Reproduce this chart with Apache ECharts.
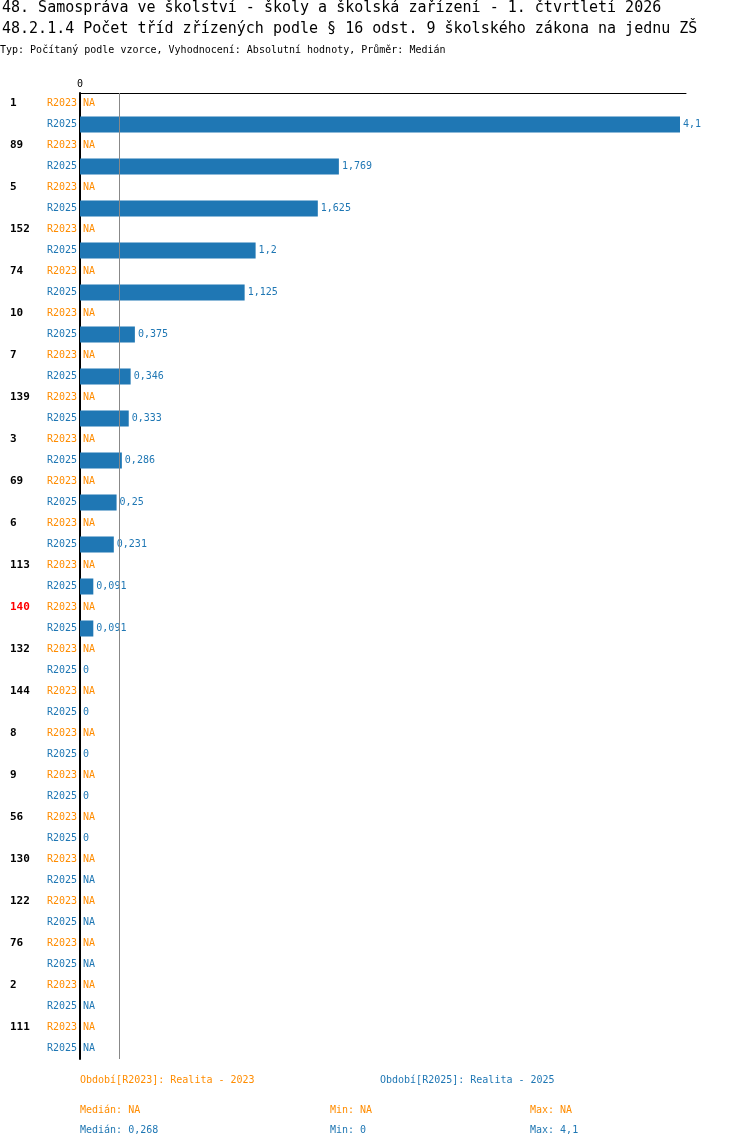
<!DOCTYPE html>
<html><head><meta charset="utf-8">
<script src="https://cdn.jsdelivr.net/npm/echarts@6/dist/echarts.min.js"></script>
<style>body{margin:0;background:#fff}#c{width:750px;height:1148px}</style></head>
<body><div id="c"></div>
<script>
const groups=['1','89','5','152','74','10','7','139','3','69','6','113','140','132','144','8','9','56','130','122','76','2','111'];
const values2023=groups.map(()=>null);
const values2025=[4.1,1.769,1.625,1.2,1.125,0.375,0.346,0.333,0.286,0.25,0.231,0.091,0.091,0,0,0,0,0,null,null,null,null,null];
const highlight='140';
const median2025=0.268;
const periods=['R2023','R2025'];
const C23='#ff8c00',C25='#1f77b4';
const font='DejaVu Sans Mono';
const rows=[],groupRows=[],data=[];
groups.forEach((g,i)=>{
  [values2023[i],values2025[i]].forEach((v,k)=>{
    rows.push(periods[k]);
    groupRows.push(k===0?g:'');
    const col=k===0?C23:C25;
    data.push({value:v==null?0:v,itemStyle:{color:C25},
      label:{color:col,formatter:v==null?'NA':String(v).replace('.',',')}});
  });
});
const chart=echarts.init(document.getElementById('c'));
chart.setOption({
  animation:false,
  textStyle:{fontFamily:font},
  graphic:[
    {type:'text',left:2,top:1,style:{text:'48. Samospráva ve školství - školy a školská zařízení - 1. čtvrtletí 2026',font:'15px "DejaVu Sans Mono"',fill:'#000'}},
    {type:'text',left:2,top:22,style:{text:'48.2.1.4 Počet tříd zřízených podle § 16 odst. 9 školského zákona na jednu ZŠ',font:'15px "DejaVu Sans Mono"',fill:'#000'}},
    {type:'text',left:0,top:45,style:{text:'Typ: Počítaný podle vzorce, Vyhodnocení: Absolutní hodnoty, Průměr: Medián',font:'10px "DejaVu Sans Mono"',fill:'#000'}},
    {type:'text',left:80,top:1075,style:{text:'Období[R2023]: Realita - 2023',font:'10px "DejaVu Sans Mono"',fill:C23}},
    {type:'text',left:380,top:1075,style:{text:'Období[R2025]: Realita - 2025',font:'10px "DejaVu Sans Mono"',fill:C25}},
    {type:'text',left:80,top:1105,style:{text:'Medián: NA',font:'10px "DejaVu Sans Mono"',fill:C23}},
    {type:'text',left:330,top:1105,style:{text:'Min: NA',font:'10px "DejaVu Sans Mono"',fill:C23}},
    {type:'text',left:530,top:1105,style:{text:'Max: NA',font:'10px "DejaVu Sans Mono"',fill:C23}},
    {type:'text',left:80,top:1125,style:{text:'Medián: 0,268',font:'10px "DejaVu Sans Mono"',fill:C25}},
    {type:'text',left:330,top:1125,style:{text:'Min: 0',font:'10px "DejaVu Sans Mono"',fill:C25}},
    {type:'text',left:530,top:1125,style:{text:'Max: 4,1',font:'10px "DejaVu Sans Mono"',fill:C25}}
  ],
  grid:{left:80,top:93,width:606,height:966},
  xAxis:{type:'value',position:'top',min:0,max:4.141,interval:4.141,
    axisLine:{show:true,lineStyle:{color:'#000',width:1}},axisTick:{show:false},splitLine:{show:false},
    axisLabel:{formatter:v=>v===0?'0':'',fontSize:10,color:'#000',fontFamily:font,margin:4}},
  yAxis:[
    {type:'category',data:rows,inverse:true,axisLine:{lineStyle:{color:'#000',width:2}},axisTick:{show:false},
      axisLabel:{fontSize:10,fontFamily:font,margin:3,formatter:(v,i)=>v==='R2023'?'{a|'+v+'}':'{b|'+v+'}',
        rich:{a:{color:C23,fontSize:10,fontFamily:font},b:{color:C25,fontSize:10,fontFamily:font}}}},
    {type:'category',data:groupRows,inverse:true,position:'left',axisLine:{show:false},axisTick:{show:false},
      axisLabel:{interval:0,align:'left',margin:70,fontSize:11,fontWeight:'bold',fontFamily:font,
        color:(v)=>v===highlight?'#ff0000':'#000'}}
  ],
  series:[{type:'bar',data:data,barWidth:16,yAxisIndex:0,
    label:{show:true,position:'right',distance:3,fontSize:10,fontFamily:font},
    markLine:{silent:true,symbol:'none',label:{show:false},lineStyle:{color:'#888',type:'solid',width:1},
      data:[{xAxis:median2025}]}}]
});
</script></body></html>
